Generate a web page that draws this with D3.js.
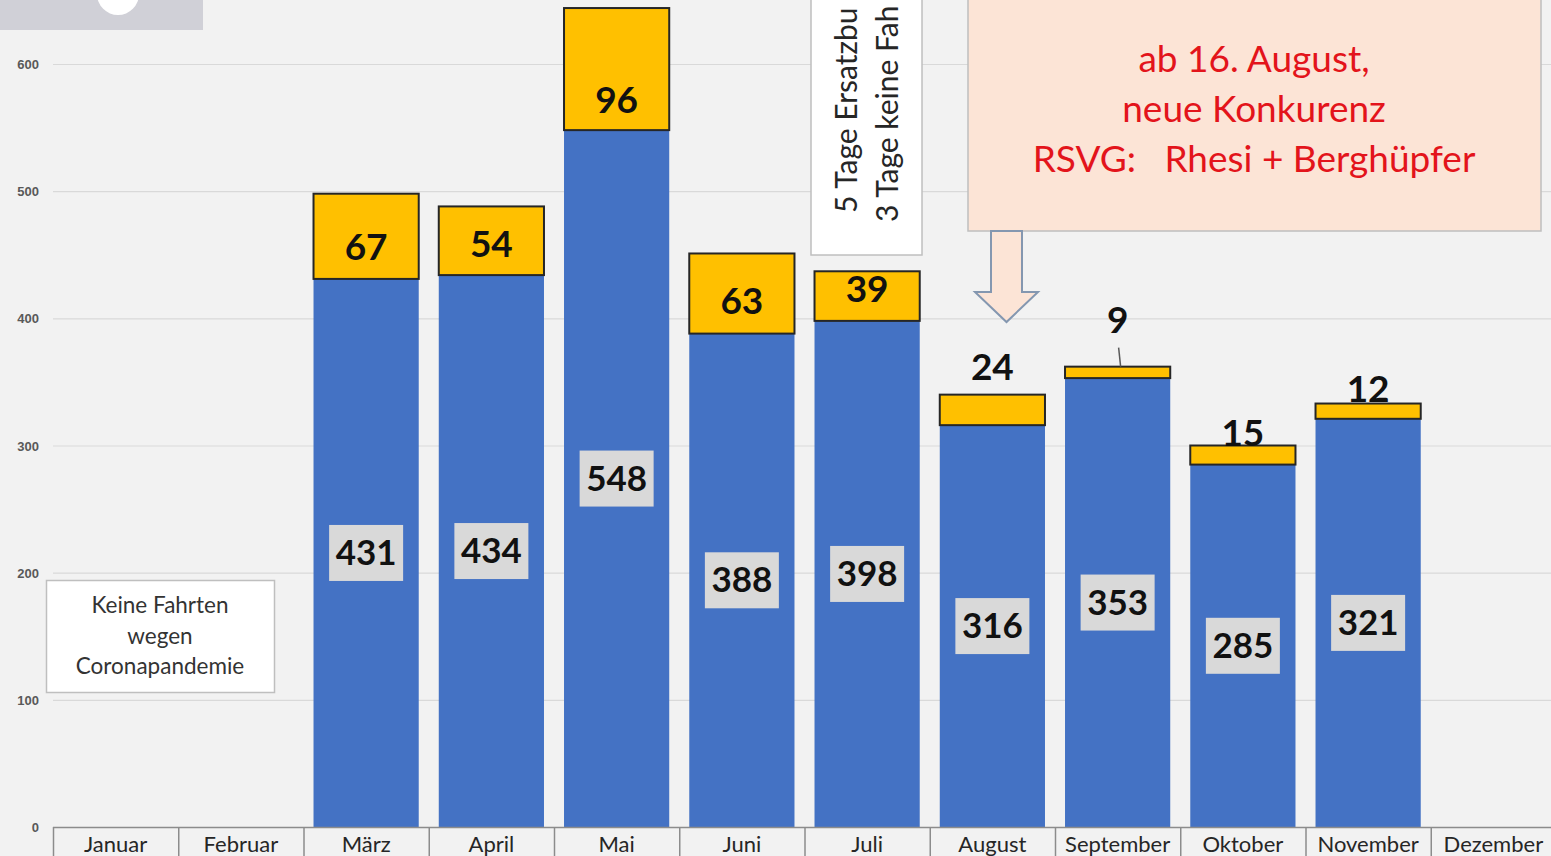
<!DOCTYPE html>
<html>
<head>
<meta charset="utf-8">
<script src="https://cdn.jsdelivr.net/npm/d3@7"></script>
<style>
  html, body { margin: 0; padding: 0; background: #f2f2f2; overflow: hidden; }
  svg { display: block; }
</style>
</head>
<body>
<div id="chart"></div>
<script>
var months = ["Januar", "Februar", "März", "April", "Mai", "Juni", "Juli", "August", "September", "Oktober", "November", "Dezember"];
var fahrten = [0, 0, 431, 434, 548, 388, 398, 316, 353, 285, 321, 0];
var zusatz  = [0, 0, 67, 54, 96, 63, 39, 24, 9, 15, 12, 0];
var yTicks = [0, 100, 200, 300, 400, 500, 600];

// label shift (px) of the yellow labels, relative to the top of the yellow block
var zusatzLabelDy = [0, 0, 53, 38, 92, 48, 18, -28, -47, -13, -15, 0];

var W = 1551, H = 856;
var font = "Lato, 'Open Sans', sans-serif";

var svg = d3.select("#chart").append("svg")
    .attr("width", W)
    .attr("height", H);

svg.append("rect").attr("width", W).attr("height", H).attr("fill", "#f2f2f2");

var x = d3.scaleBand()
    .domain(months)
    .range([53, 1556]);

var y = d3.scaleLinear()
    .domain([0, 600])
    .range([827, 64]);

var barW = x.bandwidth() * 0.84;
var barX = function(m) { return x(m) + (x.bandwidth() - barW) / 2; };

// top-left remnant of a picture
svg.append("rect").attr("x", 0).attr("y", 0).attr("width", 203).attr("height", 30).attr("fill", "#d0d0d7");
svg.append("circle").attr("cx", 118).attr("cy", -6).attr("r", 21).attr("fill", "#ffffff");

// gridlines
svg.selectAll(".grid")
    .data(yTicks.filter(function(d) { return d > 0; }))
    .enter().append("line")
    .attr("x1", 53).attr("x2", W)
    .attr("y1", function(d) { return y(d) + 0.5; })
    .attr("y2", function(d) { return y(d) + 0.5; })
    .attr("stroke", "#d9d9d9")
    .attr("stroke-width", 1.2);

// y tick labels
svg.selectAll(".ylab")
    .data(yTicks)
    .enter().append("text")
    .attr("x", 39)
    .attr("y", function(d) { return y(d) + 5; })
    .attr("text-anchor", "end")
    .style("font-family", "'Liberation Sans', Arial, sans-serif")
    .style("font-weight", "bold")
    .style("font-size", "13px")
    .style("fill", "#595959")
    .text(function(d) { return d; });

var data = months.map(function(m, i) { return { m: m, a: fahrten[i], b: zusatz[i], dy: zusatzLabelDy[i] }; })
    .filter(function(d) { return d.a > 0; });

// blue bars
svg.selectAll(".bar")
    .data(data)
    .enter().append("rect")
    .attr("x", function(d) { return barX(d.m); })
    .attr("y", function(d) { return y(d.a); })
    .attr("width", barW)
    .attr("height", function(d) { return y(0) - y(d.a); })
    .attr("fill", "#4472c4");

// yellow bars
svg.selectAll(".bar2")
    .data(data)
    .enter().append("rect")
    .attr("x", function(d) { return barX(d.m); })
    .attr("y", function(d) { return y(d.a + d.b); })
    .attr("width", barW)
    .attr("height", function(d) { return y(d.a) - y(d.a + d.b); })
    .attr("fill", "#ffc000")
    .attr("stroke", "#262626")
    .attr("stroke-width", 2);

// blue labels in grey boxes
var lab = svg.selectAll(".lab")
    .data(data)
    .enter().append("g")
    .attr("transform", function(d) { return "translate(" + (x(d.m) + x.bandwidth() / 2) + "," + y(d.a / 2) + ")"; });
lab.append("rect")
    .attr("x", -37).attr("y", -28)
    .attr("width", 74).attr("height", 56)
    .attr("fill", "#d9d9d9");
lab.append("text")
    .attr("y", 12)
    .attr("text-anchor", "middle")
    .style("font-family", font)
    .style("font-weight", "bold")
    .style("font-size", "35px")
    .style("fill", "#111")
    .text(function(d) { return d.a; });

// yellow labels
svg.selectAll(".lab2")
    .data(data)
    .enter().append("text")
    .attr("x", function(d) { return x(d.m) + x.bandwidth() / 2; })
    .attr("y", function(d) { return y(d.a + d.b) + d.dy + 13; })
    .attr("text-anchor", "middle")
    .style("font-family", font)
    .style("font-weight", "bold")
    .style("font-size", "37px")
    .style("fill", "#111")
    .text(function(d) { return d.b; });

// leader line for September
var sep = data.filter(function(d) { return d.m === "September"; })[0];
svg.append("line")
    .attr("x1", x(sep.m) + x.bandwidth() / 2 + 1)
    .attr("x2", x(sep.m) + x.bandwidth() / 2 + 3)
    .attr("y1", y(sep.a + sep.b) + sep.dy + 28)
    .attr("y2", y(sep.a + sep.b))
    .attr("stroke", "#595959")
    .attr("stroke-width", 1.5);

// x axis
svg.append("line")
    .attr("x1", 53).attr("x2", W)
    .attr("y1", 827.5).attr("y2", 827.5)
    .attr("stroke", "#8c8c8c").attr("stroke-width", 1.5);
svg.selectAll(".div")
    .data(months)
    .enter().append("line")
    .attr("x1", function(m) { return x(m) + 0.5; })
    .attr("x2", function(m) { return x(m) + 0.5; })
    .attr("y1", 827).attr("y2", H)
    .attr("stroke", "#8c8c8c").attr("stroke-width", 1.5);
svg.selectAll(".xlab")
    .data(months)
    .enter().append("text")
    .attr("x", function(m) { return x(m) + x.bandwidth() / 2; })
    .attr("y", 852)
    .attr("text-anchor", "middle")
    .style("font-family", font)
    .style("font-size", "22px")
    .style("fill", "#262626")
    .text(function(m) { return m; });

// note: no trips
svg.append("rect")
    .attr("x", 46.5).attr("y", 580.5).attr("width", 228).attr("height", 112)
    .attr("fill", "#ffffff").attr("stroke", "#bfbfbf").attr("stroke-width", 1.5);
svg.append("text")
    .attr("x", 160).attr("y", 613)
    .attr("text-anchor", "middle")
    .style("font-family", font)
    .style("font-size", "22.5px")
    .style("fill", "#333")
    .selectAll("tspan")
    .data(["Keine Fahrten", "wegen", "Coronapandemie"])
    .enter().append("tspan")
    .attr("x", 160)
    .attr("dy", function(d, i) { return i ? 30.5 : 0; })
    .text(function(d) { return d; });

// note: replacement bus (rotated, as far as visible in the original)
svg.append("rect")
    .attr("x", 811).attr("y", -5).attr("width", 111).attr("height", 260)
    .attr("fill", "#ffffff").attr("stroke", "#bfbfbf").attr("stroke-width", 1.5);
svg.append("text")
    .attr("transform", "translate(857,213) rotate(-90)")
    .style("font-family", font)
    .style("font-size", "30px")
    .style("fill", "#262626")
    .text("5 Tage Ersatzbu");
svg.append("text")
    .attr("transform", "translate(898,222) rotate(-90)")
    .style("font-family", font)
    .style("font-size", "30px")
    .style("fill", "#262626")
    .text("3 Tage keine Fah");

// note: competition
svg.append("rect")
    .attr("x", 968).attr("y", -5).attr("width", 573).attr("height", 236)
    .attr("fill", "#fce4d6").attr("stroke", "#bfbfbf").attr("stroke-width", 1.5);
svg.append("text")
    .attr("x", 1254).attr("y", 72)
    .attr("text-anchor", "middle")
    .attr("xml:space", "preserve")
    .style("white-space", "pre")
    .style("font-family", font)
    .style("font-size", "37px")
    .style("fill", "#e3141b")
    .selectAll("tspan")
    .data(["ab 16. August,", "neue Konkurenz", "RSVG:   Rhesi + Berghüpfer"])
    .enter().append("tspan")
    .attr("x", 1254)
    .attr("dy", function(d, i) { return i ? 50 : 0; })
    .text(function(d) { return d; });

// arrow
svg.append("path")
    .attr("d", "M991,231 L1022,231 L1022,292 L1038,292 L1006.5,322 L975,292 L991,292 Z")
    .attr("fill", "#fce4d6")
    .attr("stroke", "#8497b0")
    .attr("stroke-width", 2);
</script>
</body>
</html>
